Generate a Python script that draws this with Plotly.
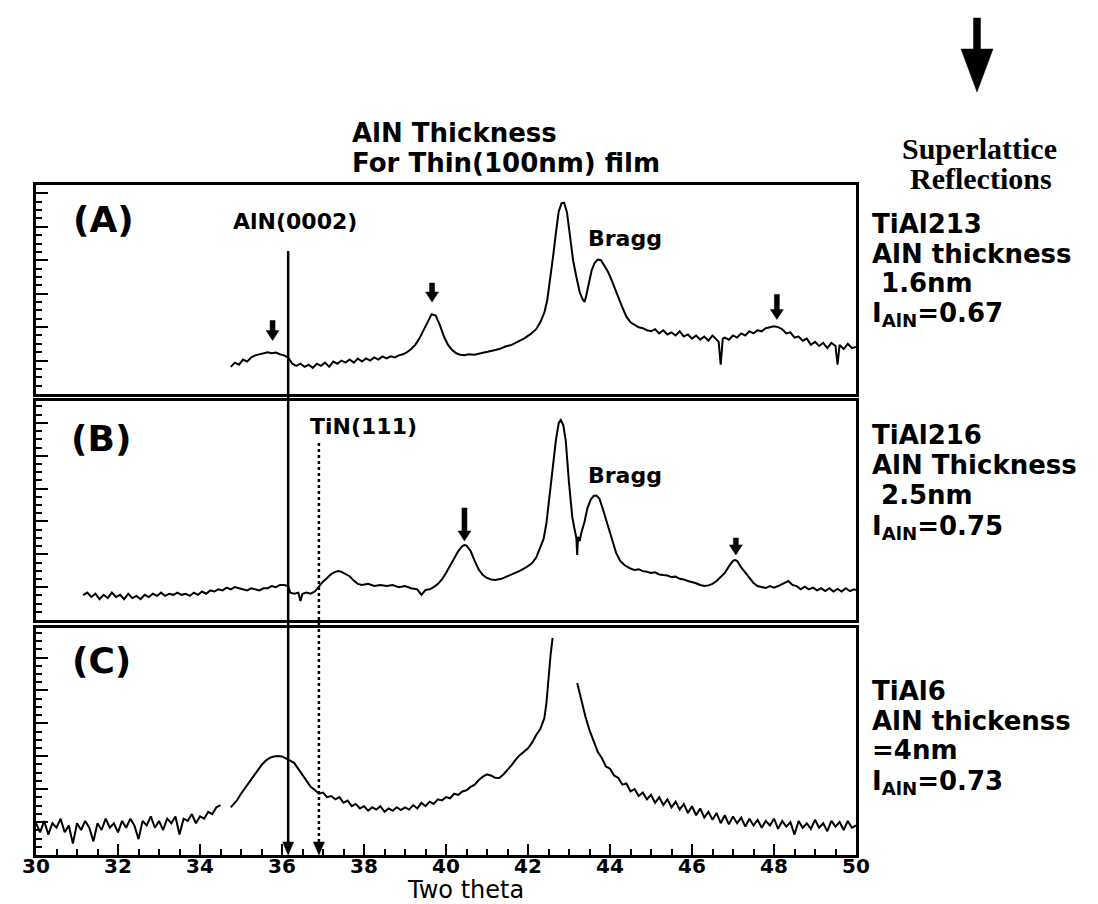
import plotly.graph_objects as go

W, H = 1098, 904

# ---------------- data (2-theta in degrees, intensity in arbitrary units 0-100 per panel) -------------
xa = [34.75, 34.85, 34.95, 35.05, 35.15, 35.25, 35.35, 35.45, 35.55, 35.65, 35.75, 35.85, 35.95, 36.05, 36.15,
      36.25, 36.35, 36.45, 36.55, 36.65, 36.75, 36.85, 36.95, 37.05, 37.15, 37.25, 37.35, 37.45, 37.55, 37.65,
      37.75, 37.85, 37.95, 38.05, 38.15, 38.25, 38.35, 38.45, 38.55, 38.65, 38.75, 38.85, 38.95, 39.05, 39.15,
      39.25, 39.35, 39.45, 39.55, 39.65, 39.75, 39.85, 39.95, 40.05, 40.15, 40.25, 40.35, 40.45, 40.55, 40.7,
      40.85, 41.0, 41.15, 41.3, 41.45, 41.6, 41.75, 41.9, 42.05, 42.2, 42.3, 42.4, 42.47, 42.55, 42.62,
      42.68, 42.75, 42.82, 42.88, 42.95, 43.02, 43.1, 43.18, 43.26, 43.33, 43.38, 43.42, 43.48, 43.55, 43.62,
      43.7, 43.78, 43.86, 43.95, 44.03, 44.1, 44.2, 44.3, 44.4, 44.5, 44.6, 44.7, 44.8, 44.9, 45.0,
      45.1, 45.2, 45.3, 45.4, 45.5, 45.6, 45.7, 45.8, 45.9, 46.0, 46.1, 46.2, 46.3, 46.4, 46.5,
      46.6, 46.65, 46.7, 46.75, 46.8, 46.9, 47.0, 47.1, 47.2, 47.3, 47.4, 47.5, 47.6, 47.7, 47.8,
      47.9, 48.0, 48.1, 48.2, 48.3, 48.4, 48.5, 48.6, 48.7, 48.8, 48.9, 49.0, 49.1, 49.2, 49.3,
      49.4, 49.5, 49.55, 49.6, 49.7, 49.8, 49.9, 50.0]
ya = [13, 15, 14, 16.5, 15.5, 17.5, 18.5, 19, 19.8, 20, 19.5, 19.8, 19, 18.5, 17.4,
      14.5, 13.5, 14.5, 13, 14, 12.5, 14.5, 13.5, 15, 13, 15.5, 14.5, 16, 15, 16.5,
      15, 17, 15.5, 17, 16, 17.5, 16.5, 18, 17, 18, 17.5, 18.5, 19, 20, 21.5,
      23.5, 26.5, 30.5, 35, 38.2, 37.5, 33, 27.5, 23.5, 21, 19.5, 18.8, 18.5, 19, 18.8,
      19.5, 20.3, 20.8, 21.5, 22.7, 23.5, 25, 26.5, 28.5, 31, 34.3, 39, 45, 56, 67,
      77, 87.4, 91.3, 91.5, 87, 76, 64, 56, 48.8, 45.4, 44, 47, 52, 59, 62.5,
      64.3, 64, 61.5, 58.5, 55, 51.2, 46.5, 41.5, 37, 34.3, 33, 31.9, 31.5, 30.5, 30,
      31, 29, 30.5, 28.5, 29.5, 28, 30, 27.5, 28.5, 26.5, 28, 26, 27.5, 25.5, 28,
      26, 25, 14, 26.5, 27, 26, 28, 27, 29, 28, 30, 29, 30.5, 30, 31.5,
      31.9, 32.4, 32, 31, 29, 29.5, 27, 27.5, 25.5, 26.5, 23.5, 25, 23, 24.5, 22,
      24.5, 23, 14, 23.5, 21.5, 24, 22, 22.5]

xb = [31.15, 31.25, 31.35, 31.45, 31.55, 31.65, 31.75, 31.85, 31.95, 32.05, 32.15, 32.25, 32.35, 32.45, 32.55,
      32.65, 32.75, 32.85, 32.95, 33.05, 33.15, 33.25, 33.35, 33.45, 33.55, 33.65, 33.75, 33.85, 33.95, 34.05,
      34.15, 34.25, 34.35, 34.45, 34.55, 34.65, 34.75, 34.85, 34.95, 35.05, 35.15, 35.25, 35.35, 35.45, 35.55,
      35.65, 35.75, 35.85, 35.95, 36.05, 36.15, 36.2, 36.3, 36.4, 36.45, 36.5, 36.6, 36.7, 36.8, 36.9,
      37.0, 37.1, 37.2, 37.3, 37.37, 37.45, 37.55, 37.65, 37.75, 37.85, 37.95, 38.1, 38.25, 38.4, 38.55,
      38.7, 38.85, 39.0, 39.15, 39.3, 39.4, 39.5, 39.6, 39.7, 39.8, 39.9, 40.0, 40.1, 40.2, 40.3,
      40.4, 40.45, 40.5, 40.6, 40.7, 40.8, 40.9, 41.0, 41.1, 41.2, 41.35, 41.5, 41.65, 41.8, 41.95,
      42.1, 42.2, 42.3, 42.38, 42.45, 42.55, 42.62, 42.68, 42.75, 42.8, 42.86, 42.92, 43.0, 43.08, 43.13,
      43.18, 43.2, 43.22, 43.26, 43.3, 43.38, 43.45, 43.53, 43.6, 43.67, 43.74, 43.82, 43.9, 44.0, 44.08,
      44.15, 44.25, 44.35, 44.5, 44.6, 44.7, 44.8, 44.9, 45.0, 45.1, 45.2, 45.3, 45.4, 45.5, 45.6,
      45.7, 45.8, 45.9, 46.0, 46.1, 46.2, 46.3, 46.4, 46.5, 46.6, 46.7, 46.8, 46.9, 47.0, 47.05,
      47.1, 47.2, 47.3, 47.4, 47.5, 47.6, 47.7, 47.8, 47.9, 48.0, 48.1, 48.2, 48.3, 48.35, 48.45,
      48.55, 48.65, 48.75, 48.85, 48.95, 49.05, 49.15, 49.25, 49.35, 49.45, 49.55, 49.65, 49.75, 49.85, 49.95,
      50.0]
yb = [11.4, 12.5, 10.5, 12, 9.5, 11.5, 10, 12.5, 10.5, 11.5, 9.5, 12, 10, 11, 9.5,
      11.5, 10.5, 12, 11, 12.5, 11, 12, 11.5, 12.5, 11.5, 12, 11, 12.5, 11.5, 13,
      12, 13.5, 13, 14, 13.5, 14.8, 14, 15, 14.5, 14, 13.5, 14.5, 14, 13.5, 14.5,
      14.5, 15.5, 15, 16, 16, 15.5, 12.5, 12, 12.5, 8.7, 12, 12.5, 12, 13, 15.5,
      17.5, 19.2, 21, 22, 22.4, 22, 21, 20, 18, 16.5, 16, 16.5, 15.5, 16, 15.5,
      16, 15, 15.5, 14.5, 14, 11.5, 13.7, 14, 15, 16.4, 18.5, 21.5, 25, 28.3, 31.5,
      33.8, 34.2, 34, 31.5, 27, 23, 20.5, 19.2, 18.5, 18.3, 18.8, 20, 21, 22.4, 24,
      26, 28.5, 32.9, 37, 44.3, 60.3, 72, 82, 90, 91.3, 89, 82, 62.6, 47, 42,
      37.4, 29.7, 38, 36, 39.7, 45, 51.1, 55, 56.6, 56.8, 55.5, 51, 46, 39.7, 34.5,
      30.6, 27, 25.1, 23.5, 22.8, 23.2, 22.3, 22, 21.5, 21.8, 20.8, 20.5, 20.3, 19.6, 19.8,
      18.8, 18.5, 17.8, 17.4, 16.8, 16, 15.5, 15.8, 16.5, 17.8, 19.5, 21.5, 24.5, 27, 27.4,
      27, 24, 21.5, 19.5, 16.9, 15.5, 15, 14.6, 15.5, 14.8, 15.5, 16.5, 17.5, 17.8, 16,
      15.5, 14, 15.2, 14, 14.8, 13.5, 14.5, 13.2, 14.5, 13, 14.2, 13, 14.5, 13.2, 14,
      13.7]

xc = [30.0, 30.1, 30.2, 30.3, 30.4, 30.5, 30.6, 30.7, 30.8, 30.9, 31.0, 31.1, 31.2, 31.3, 31.4,
      31.5, 31.6, 31.7, 31.8, 31.9, 32.0, 32.1, 32.2, 32.3, 32.4, 32.5, 32.6, 32.7, 32.8, 32.9,
      33.0, 33.1, 33.2, 33.3, 33.4, 33.5, 33.6, 33.7, 33.8, 33.9, 34.0, 34.1, 34.2, 34.3, 34.4,
      34.5, 34.62, 34.75, 34.9, 35.0, 35.1, 35.2, 35.3, 35.4, 35.5, 35.6, 35.7, 35.8, 35.9, 36.0,
      36.1, 36.2, 36.3, 36.4, 36.5, 36.6, 36.7, 36.8, 36.9, 37.0, 37.1, 37.2, 37.3, 37.4, 37.5,
      37.6, 37.7, 37.8, 37.9, 38.0, 38.1, 38.2, 38.3, 38.4, 38.5, 38.6, 38.7, 38.8, 38.9, 39.0,
      39.1, 39.2, 39.3, 39.4, 39.5, 39.6, 39.7, 39.8, 39.9, 40.0, 40.1, 40.2, 40.3, 40.4, 40.5,
      40.6, 40.7, 40.8, 40.9, 41.0, 41.1, 41.2, 41.3, 41.4, 41.5, 41.6, 41.7, 41.8, 41.9, 42.0,
      42.1, 42.2, 42.3, 42.4, 42.45, 42.5, 42.55, 42.6, 42.9, 43.2, 43.3, 43.4, 43.5, 43.6, 43.7,
      43.8, 43.9, 44.0, 44.1, 44.2, 44.3, 44.4, 44.5, 44.6, 44.7, 44.8, 44.9, 45.0, 45.1, 45.2,
      45.3, 45.4, 45.5, 45.6, 45.7, 45.8, 45.9, 46.0, 46.1, 46.2, 46.3, 46.4, 46.5, 46.6, 46.7,
      46.8, 46.9, 47.0, 47.1, 47.2, 47.3, 47.4, 47.5, 47.6, 47.7, 47.8, 47.9, 48.0, 48.1, 48.2,
      48.3, 48.4, 48.5, 48.6, 48.7, 48.8, 48.9, 49.0, 49.1, 49.2, 49.3, 49.4, 49.5, 49.6, 49.7,
      49.8, 49.9, 50.0]
yc = [14, 10, 15, 9, 14, 12, 16, 10, 13, 5, 14, 11, 15, 12, 6,
      14, 11, 16, 12, 14, 10, 15, 12, 16, 13, 7, 15, 13, 17, 12,
      15, 11, 16, 14, 17, 9, 16, 15, 18, 14, 17, 16, 19, 18, 21,
      22, None, 21, 24, 27, 29.5, 32, 35, 37.5, 39.6, 41.5, 42.8, 43.4, 43.6, 43.4,
      42.6, 41.6, 40.5, 38, 35.5, 32.5, 30, 28.6, 27, 27.5, 25.5, 26, 24.5, 25.5, 23,
      24, 21.5, 22.5, 20.5, 21.5, 19.5, 21, 20, 21.5, 19, 20.5, 19.5, 21, 19.8, 21,
      20, 22, 20.5, 23, 21.5, 23.5, 22.5, 24.5, 24, 25.5, 25, 27, 26.5, 28, 28.5,
      30, 31, 33, 34.5, 35.5, 35, 34, 33.9, 35.5, 37.5, 39.6, 42, 44, 45.5, 47,
      49.5, 52.9, 55.5, 60.4, 67, 79, 88, 95.6, None, 75.8, 68, 61, 55, 50.5, 45.5,
      42.7, 39, 38, 35, 34, 31, 31.5, 28, 29, 26, 27.5, 24.5, 26.5, 23, 25.5,
      22, 24.5, 21, 23.5, 20, 22.5, 18.5, 21.5, 17.5, 20.5, 16.5, 19, 15.5, 18.5, 14,
      17.5, 13.5, 17, 14, 16.5, 12.5, 16, 13, 15.5, 12, 15, 13, 16, 11.5, 15,
      12.5, 14.5, 9, 15, 12, 14, 11.5, 15.5, 12, 14, 10.5, 15, 12.5, 14.5, 11,
      15, 12, 13]

# superlattice-reflection marker positions (2-theta, intensity at arrow tip)
marks_a_x = [35.77, 39.66, 48.07]
marks_a_y = [25.6, 44.0, 35.7]
marks_b_x = [40.45, 47.07]
marks_b_y = [36.1, 29.7]

aln_0002 = 36.15
tin_111 = 36.9

x_ticks = [30, 32, 34, 36, 38, 40, 42, 44, 46, 48, 50]

# ---------------- layout helpers (pixel -> paper) ----------------
def px(x):
    return x / W

def py(y):
    return 1 - y / H

XDOM = [px(28), px(848)]
A_DOM = [py(386), py(177)]
B_DOM = [py(612), py(393)]
C_DOM = [py(847), py(620)]

SANS = "DejaVu Sans"
line_style = dict(color="black", width=2)

fig = go.Figure()
fig.add_trace(go.Scatter(x=xa, y=ya, mode="lines", line=line_style, xaxis="x", yaxis="y"))
fig.add_trace(go.Scatter(x=xb, y=yb, mode="lines", line=line_style, xaxis="x2", yaxis="y2"))
fig.add_trace(go.Scatter(x=xc, y=yc, mode="lines", line=line_style, xaxis="x3", yaxis="y3",
                         connectgaps=False))

def xax(show_ticks, anchor):
    d = dict(domain=XDOM, range=[30, 50], anchor=anchor, showgrid=False, zeroline=False,
             showline=True, mirror=True, linecolor="black", linewidth=3, fixedrange=True,
             automargin=False, showticklabels=False)
    if show_ticks:
        d.update(ticks="inside", ticklen=11, tickwidth=2, tickcolor="black",
                 tickvals=x_ticks,
                 minor=dict(ticks="inside", ticklen=6, tickwidth=2, dtick=0.5, tickcolor="black"))
    else:
        d.update(ticks="")
    return d

def yax(dom, anchor, dt):
    return dict(domain=dom, range=[0, 100], anchor=anchor, showgrid=False, zeroline=False,
                showline=True, mirror=True, linecolor="black", linewidth=3,
                ticks="inside", ticklen=12, tickwidth=2, tickcolor="black", dtick=dt, tick0=0,
                showticklabels=False, fixedrange=True, automargin=False,
                minor=dict(ticks="inside", ticklen=6, tickwidth=2, dtick=dt / 4, tickcolor="black"))

annotations = []

def txt(s, x, y, size, xanchor="left", family=SANS, weight="bold"):
    annotations.append(dict(text=s, x=px(x), y=py(y), xref="paper", yref="paper",
                            xanchor=xanchor, yanchor="middle", showarrow=False,
                            font=dict(family=family, size=size, color="black", weight=weight)))

# titles
txt("AlN Thickness", 342, 125, 26)
txt("For Thin(100nm) film", 342, 155, 26)
# right side header
txt("Superlattice", 971, 140, 30, "center", "Liberation Serif")
txt("Reflections", 973, 171, 30, "center", "Liberation Serif")
# right side sample notes
NB = "\u00a0"
for lines, ys in [
    (["TiAl213", "AlN thickness", NB + "1.6nm", "I<sub>AlN</sub>=0.67"], [216, 246, 275, 307]),
    (["TiAl216", "AlN Thickness", NB + "2.5nm", "I<sub>AlN</sub>=0.75"], [427, 457, 487, 519]),
    (["TiAl6", "AlN thickenss", "=4nm", "I<sub>AlN</sub>=0.73"], [683, 713, 742, 774]),
]:
    for s, y in zip(lines, ys):
        txt(s, 862, y, 26)

# panel labels
txt("(A)", 95, 211, 36, "center")
txt("(B)", 93, 430, 36, "center")
txt("(C)", 93, 652, 36, "center")
# peak labels
txt("AlN(0002)", 287, 213, 22, "center")
txt("TiN(111)", 355, 418, 22, "center")
txt("Bragg", 617, 230, 22, "center")
txt("Bragg", 617, 467, 22, "center")
# x tick labels (placed at the tick positions of the bottom axis)
for t in x_ticks:
    annotations.append(dict(text=str(t), x=t, y=py(858), xref="x3", yref="paper",
                            xanchor="center", yanchor="middle", showarrow=False,
                            font=dict(family=SANS, size=20, color="black", weight="bold")))
# x axis title
txt("Two theta", 457, 882, 24, "center", weight="normal")


# ---------------- arrows drawn as filled shapes (pixel-sized, anchored at their tip) -------------
def arrow_path(total, head_len, head_half, shaft_half):
    # tip at (0,0), pointing down; pixel y grows upward
    return (f"M{-shaft_half},{total} L{shaft_half},{total} L{shaft_half},{head_len} "
            f"L{head_half},{head_len} L0,0 L{-head_half},{head_len} L{-shaft_half},{head_len} Z")

shapes = []

def arrow_shape(xanchor, yanchor, xref, yref, total, head_len, head_half, shaft_half):
    shapes.append(dict(type="path", xref=xref, yref=yref, xsizemode="pixel", ysizemode="pixel",
                       xanchor=xanchor, yanchor=yanchor,
                       path=arrow_path(total, head_len, head_half, shaft_half),
                       fillcolor="black", line=dict(color="black", width=0.5)))

# big arrow top right
arrow_shape(px(969), py(84), "paper", "paper", 74, 43, 16, 3.5)

# superlattice markers
for xs, ys, xr, yr, L in [(marks_a_x, marks_a_y, "x", "y", [20, 19, 25]),
                         (marks_b_x, marks_b_y, "x2", "y2", [33, 17])]:
    for xv, yv, l in zip(xs, ys, L):
        arrow_shape(xv, yv, xr, yr, l, 10, 6.5, 2.5)

# reference lines (AlN(0002) solid, TiN(111) dotted) ending with arrowheads on the bottom axis
shapes.append(dict(type="line", xref="x3", yref="paper", x0=aln_0002, x1=aln_0002,
                   y0=py(243), y1=py(836), line=dict(color="black", width=2.5)))
shapes.append(dict(type="line", xref="x3", yref="paper", x0=tin_111, x1=tin_111,
                   y0=py(435), y1=py(836), line=dict(color="black", width=2.5, dash="dot")))
for xv in [aln_0002, tin_111]:
    arrow_shape(xv, 0, "x3", "y3", 13, 13, 5.5, 1)

fig.update_layout(
    width=W, height=H, margin=dict(l=0, r=0, t=0, b=0, autoexpand=False),
    paper_bgcolor="white", plot_bgcolor="white", showlegend=False,
    xaxis=xax(False, "y"), xaxis2=xax(False, "y2"), xaxis3=xax(True, "y3"),
    yaxis=yax(A_DOM, "x", 16), yaxis2=yax(B_DOM, "x2", 15), yaxis3=yax(C_DOM, "x3", 14.5),
    annotations=annotations, shapes=shapes,
)

fig.write_html("out.html")
